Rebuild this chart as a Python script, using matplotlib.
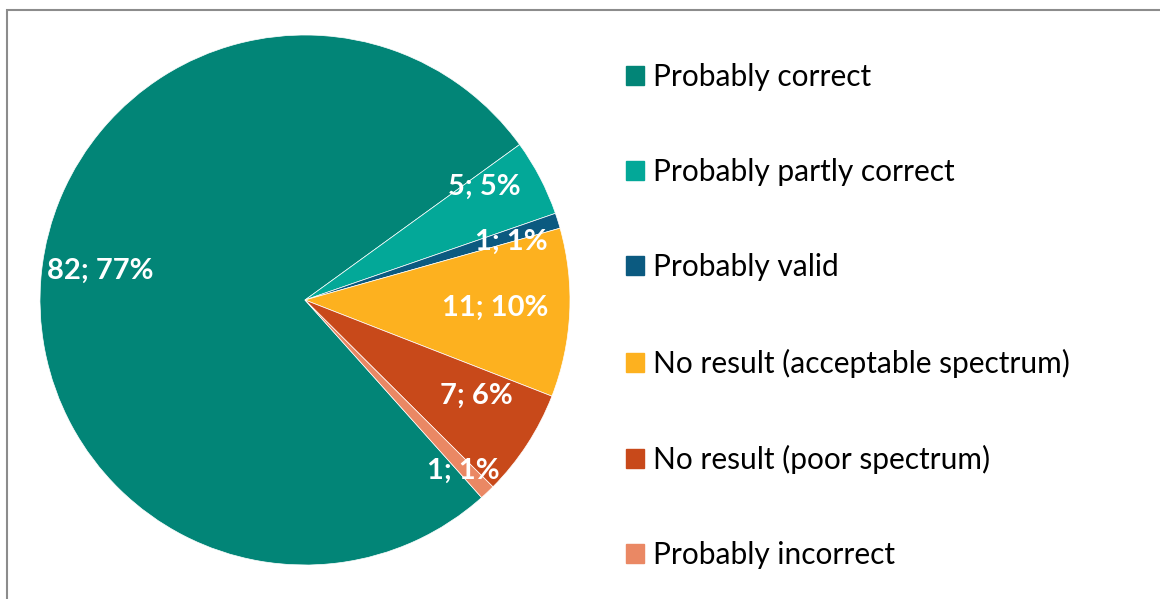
import numpy as np
import matplotlib
matplotlib.use("Agg")
import matplotlib.pyplot as plt
from matplotlib.patches import Rectangle

# data
categories = ["Probably correct", "Probably partly correct", "Probably valid",
              "No result (acceptable spectrum)", "No result (poor spectrum)",
              "Probably incorrect"]
counts = [82, 5, 1, 11, 7, 1]
pct_labels = ["77%", "5%", "1%", "10%", "6%", "1%"]
colors = ["#028577", "#03a898", "#0b5a80", "#fdb11f", "#c8491a", "#ea8864"]
# label placement (fraction of radius, angle tweak in degrees)
label_dist = [0.78, 0.80, 0.81, 0.72, 0.74, 0.88]
label_rot = [-2.0, 4.8, -1.8, 0.4, 3.7, -0.6]

plt.rcParams['font.family'] = ['Lato', 'DejaVu Sans']

W, H = 1160, 599
fig = plt.figure(figsize=(W / 100, H / 100), dpi=100)

# pie area: center (305, 300) px, radius 265 px
cx, cy, r = 305, 300, 265
ax = fig.add_axes([(cx - r) / W, (H - cy - r) / H, 2 * r / W, 2 * r / H])
wedges, _ = ax.pie(counts, colors=colors, startangle=-48.2, counterclock=False,
                   radius=1, wedgeprops=dict(edgecolor="white", linewidth=0.5))
ax.set_xlim(-1, 1)
ax.set_ylim(-1, 1)
ax.set_aspect("equal")
ax.axis("off")

for w, c, p, d, t in zip(wedges, counts, pct_labels, label_dist, label_rot):
    ang = np.deg2rad((w.theta1 + w.theta2) / 2 + t)
    ax.text(d * np.cos(ang), d * np.sin(ang), "%d; %s" % (c, p), color="white",
            fontsize=21, fontweight="bold", ha="center", va="center")

# legend
handles = [plt.Rectangle((0, 0), 1, 1, color=c) for c in colors]
fig.legend(handles, categories, loc="upper left", bbox_to_anchor=(611 / W, 1 - 48 / H),
           frameon=False, fontsize=21.5, handlelength=0.6, handleheight=0.6,
           handletextpad=0.3, labelspacing=2.25, borderpad=0)

# chart border
fig.add_artist(Rectangle((7 / W, -0.1), 1.2, 1.1 - 10 / H, transform=fig.transFigure,
                         fill=False, edgecolor="#8c8c8c", linewidth=1.5))

fig.savefig("out.png", dpi=100)
